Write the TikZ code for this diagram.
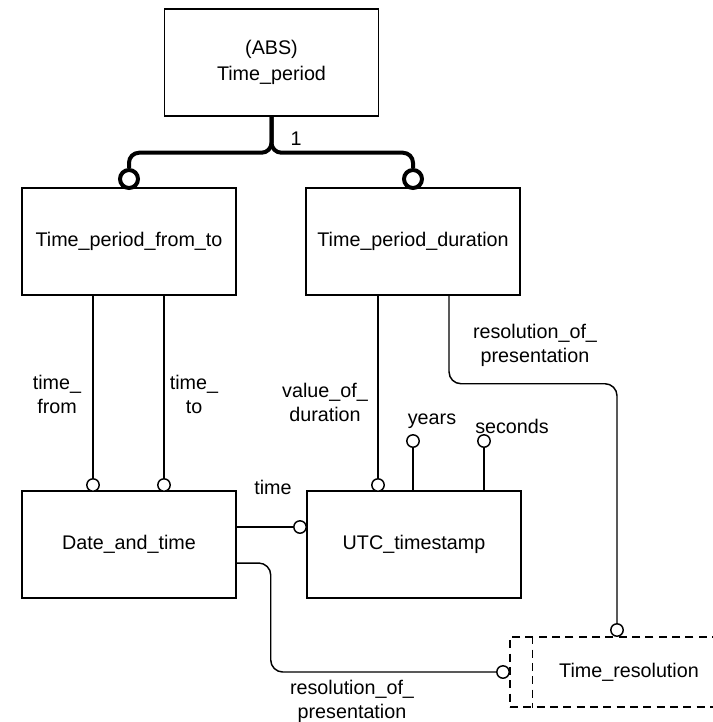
\documentclass[tikz,border=0pt]{standalone}
\usepackage{fontspec}
\setmainfont{Liberation Sans}
\begin{document}
\begin{tikzpicture}[x=0.75pt,y=-0.75pt,
  every node/.style={font=\fontsize{14.8}{18}\selectfont},
  box/.style={draw, line width=1.1pt, minimum width=160.5pt, minimum height=80.25pt, inner sep=0pt, align=center},
  conn/.style={line width=1.1pt},
  thickconn/.style={line width=3pt, rounded corners=7.5pt},
  ocirc/.style={circle, draw, line width=1.1pt, fill=white, minimum size=9.3pt, inner sep=0pt},
  bigcirc/.style={circle, draw, line width=3pt, fill=white, minimum size=13.5pt, inner sep=0pt},
  lbl/.style={align=center, inner sep=0pt},
  dashbox/.style={draw, dash pattern=on 6pt off 4pt, line width=1.1pt}
]
\useasboundingbox (0,0) rectangle (713,722);
\clip (0,0) rectangle (713,722);

% entities
\node[box, font=\fontsize{14.8}{19.5}\selectfont] (tp) at (271.5,62.5) {(ABS)\\Time\_period};
\node[box] (ft) at (129,241.5) {Time\_period\_from\_to};
\node[box] (dur) at (413,241.5) {Time\_period\_duration};
\node[box] (dt) at (129,544.5) {Date\_and\_time};
\node[box] (utc) at (414,544.5) {UTC\_timestamp};
\node[dashbox, minimum width=187.5pt, minimum height=52.5pt, inner sep=0pt] (res) at (635,672) {};
\draw[dash pattern=on 6pt off 4pt, line width=1.1pt] ([xshift=17.25pt]res.north west) -- ([xshift=17.25pt]res.south west);
\node (restxt) at (629,672) {Time\_resolution};

% supertype connector
\node[bigcirc] (k1) at (129,179) {};
\node[bigcirc] (k2) at (413,179) {};
\draw[thickconn] (tp.south) -- ++(0,36) -| (k1.north);
\draw[thickconn] (tp.south) -- ++(0,36) -| (k2.north);
\node (one) at (296,139) {1};

% relationships
\node[ocirc] (a1) at (93,485) {};
\node[ocirc] (a2) at (164,485) {};
\draw[conn] (ft.south -| a1) -- (a1.north);
\draw[conn] (ft.south -| a2) -- (a2.north);

\node[ocirc] (v1) at (378,485) {};
\draw[conn] (dur.south -| v1) -- (v1.north);

\node[ocirc] (y1) at (413,441) {};
\draw[conn] (y1.south) -- (utc.north -| y1);
\node[ocirc] (s1) at (484,441) {};
\draw[conn] (s1.south) -- (utc.north -| s1);

\node[ocirc] (t1) at (300,527) {};
\draw[conn] (dt.east |- t1) -- (t1.west);

\node[ocirc] (r1) at (617,630) {};
\draw[conn, rounded corners=9pt] ([xshift=27pt]dur.south) -- ++(0,88) -| (r1.north);

\node[ocirc] (r2) at (503,672) {};
\draw[conn, rounded corners=9pt] ([yshift=-13.9pt]dt.east) -- ++(34,0) |- (r2.west);

% labels
\node[lbl] (lf) at (57,394) {time\_\\from};
\node[lbl] (lt) at (194,394) {time\_\\to};
\node[lbl] (lv) at (325,402) {value\_of\_\\duration};
\node[lbl] (lr1) at (535,345) {resolution\_of\_\\presentation};
\node[lbl] (ly) at (432,421) {years};
\node[lbl] (ls) at (512,426) {seconds};
\node[lbl] (ltime) at (273,487) {time};
\node[lbl] (lr2) at (352,701) {resolution\_of\_\\presentation};
\end{tikzpicture}
\end{document}
